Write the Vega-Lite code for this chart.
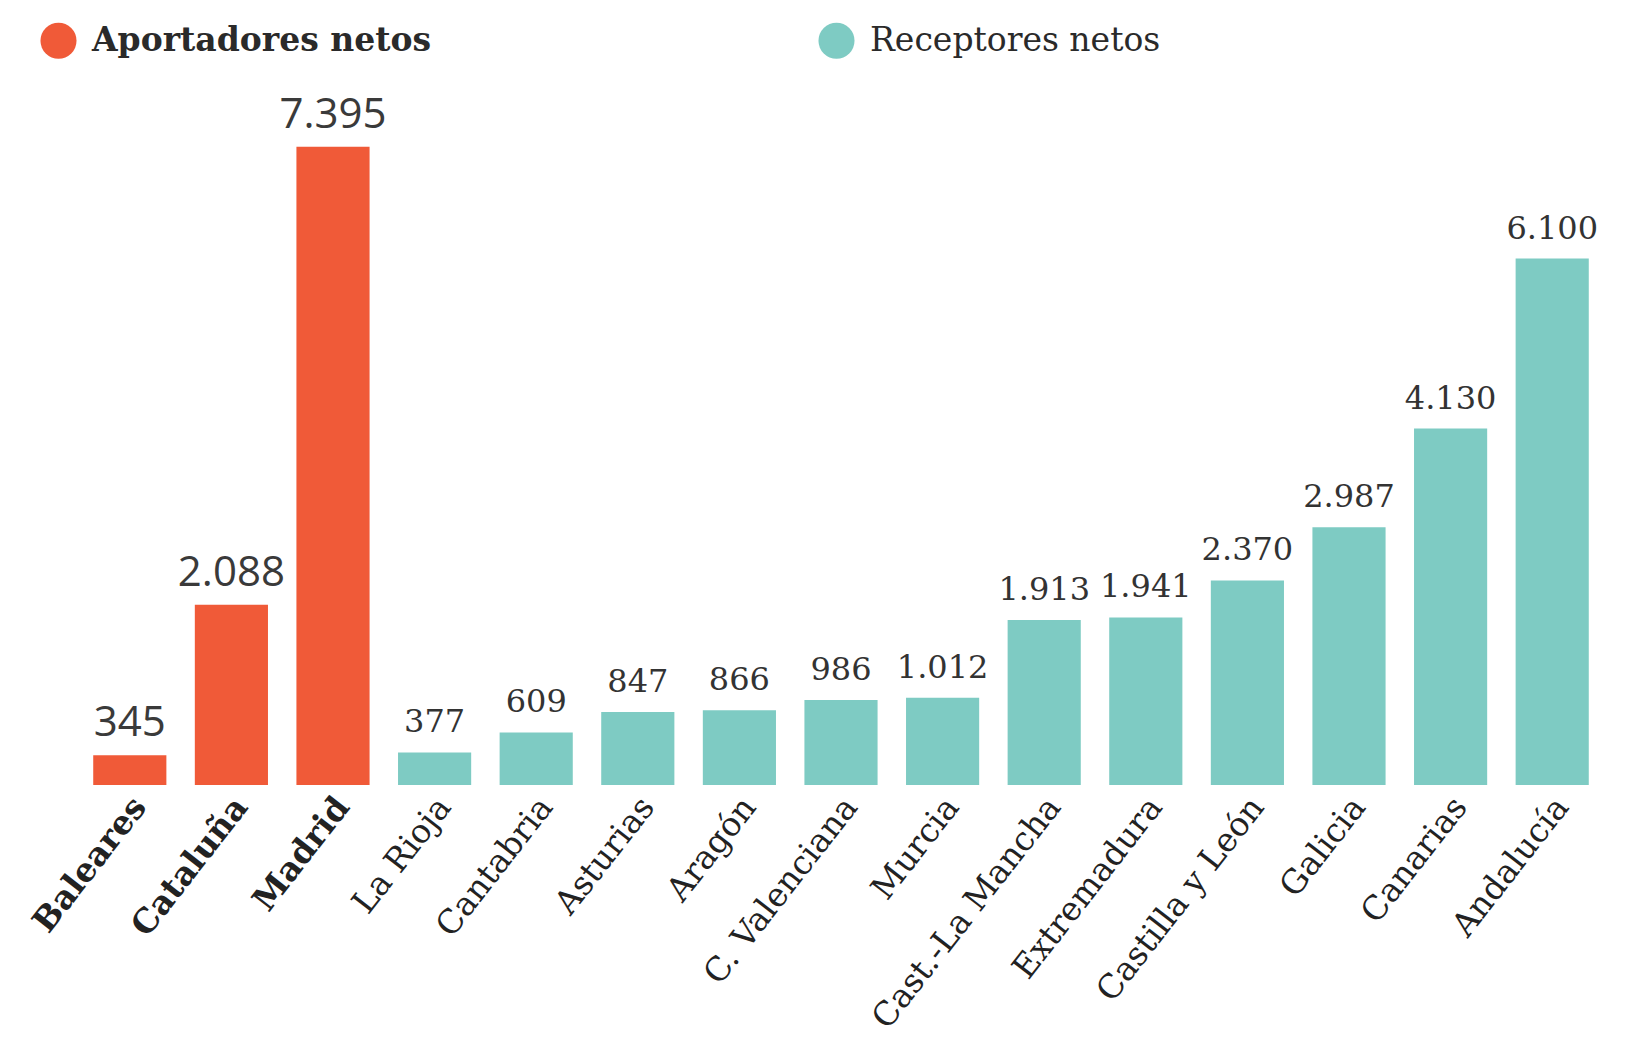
{
  "$schema": "https://vega.github.io/schema/vega-lite/v6.json",
  "width": 1524,
  "height": 685,
  "autosize": {"type": "none"},
  "padding": {"left": 79, "top": 100, "right": 29, "bottom": 265},
  "background": "white",
  "config": {
    "view": {"stroke": null},
    "locale": {"number": {"decimal": ",", "thousands": ".", "grouping": [3], "currency": ["", " €"]}}
  },
  "data": {
    "values": [
      {"region": "Baleares", "valor": 345, "grupo": "Aportadores netos"},
      {"region": "Cataluña", "valor": 2088, "grupo": "Aportadores netos"},
      {"region": "Madrid", "valor": 7395, "grupo": "Aportadores netos"},
      {"region": "La Rioja", "valor": 377, "grupo": "Receptores netos"},
      {"region": "Cantabria", "valor": 609, "grupo": "Receptores netos"},
      {"region": "Asturias", "valor": 847, "grupo": "Receptores netos"},
      {"region": "Aragón", "valor": 866, "grupo": "Receptores netos"},
      {"region": "C. Valenciana", "valor": 986, "grupo": "Receptores netos"},
      {"region": "Murcia", "valor": 1012, "grupo": "Receptores netos"},
      {"region": "Cast.-La Mancha", "valor": 1913, "grupo": "Receptores netos"},
      {"region": "Extremadura", "valor": 1941, "grupo": "Receptores netos"},
      {"region": "Castilla y León", "valor": 2370, "grupo": "Receptores netos"},
      {"region": "Galicia", "valor": 2987, "grupo": "Receptores netos"},
      {"region": "Canarias", "valor": 4130, "grupo": "Receptores netos"},
      {"region": "Andalucía", "valor": 6100, "grupo": "Receptores netos"}
    ]
  },
  "encoding": {
    "x": {
      "field": "region",
      "type": "nominal",
      "sort": null,
      "scale": {"paddingInner": 0.28, "paddingOuter": 0.14},
      "axis": {
        "title": null,
        "labelAngle": -52,
        "labelFont": "DejaVu Serif",
        "labelFontSize": 33,
        "labelColor": "#222222",
        "labelFontWeight": {"condition": {"test": "indexof(['Baleares','Cataluña','Madrid'], datum.value) >= 0", "value": "bold"}, "value": "normal"},
        "domain": false,
        "ticks": false,
        "labelPadding": 16,
        "labelOffset": 10,
        "labelOverlap": false,
        "labelLimit": 500
      }
    },
    "y": {
      "field": "valor",
      "type": "quantitative",
      "scale": {"domain": [0, 7937], "nice": false},
      "axis": null
    }
  },
  "layer": [
    {
      "mark": {"type": "bar"},
      "encoding": {
        "color": {
          "field": "grupo",
          "type": "nominal",
          "scale": {"domain": ["Aportadores netos", "Receptores netos"], "range": ["#F05A38", "#7ECBC3"]},
          "legend": {
            "title": null,
            "orient": "none",
            "legendX": -39,
            "legendY": -78,
            "direction": "horizontal",
            "padding": 0,
            "symbolType": "circle",
            "symbolSize": 1300,
            "symbolStrokeWidth": 0,
            "labelFont": "DejaVu Serif",
            "labelFontSize": 33,
            "labelColor": "#2a2a2a",
            "labelOffset": 15,
            "columnPadding": 386,
            "labelLimit": 700,
            "encode": {
              "labels": {
                "update": {
                  "fontWeight": {"signal": "datum.value === 'Aportadores netos' ? 'bold' : 'normal'"}
                }
              }
            }
          }
        }
      }
    },
    {
      "transform": [{"filter": "datum.grupo === 'Aportadores netos'"}],
      "mark": {"type": "text", "font": "Open Sans", "fontSize": 42, "dy": -19, "baseline": "alphabetic", "color": "#3a3a3a"},
      "encoding": {"text": {"field": "valor", "type": "quantitative", "format": ",d"}}
    },
    {
      "transform": [{"filter": "datum.grupo === 'Receptores netos'"}],
      "mark": {"type": "text", "font": "DejaVu Serif", "fontSize": 32, "dy": -20, "baseline": "alphabetic", "color": "#333333"},
      "encoding": {"text": {"field": "valor", "type": "quantitative", "format": ",d"}}
    }
  ]
}
